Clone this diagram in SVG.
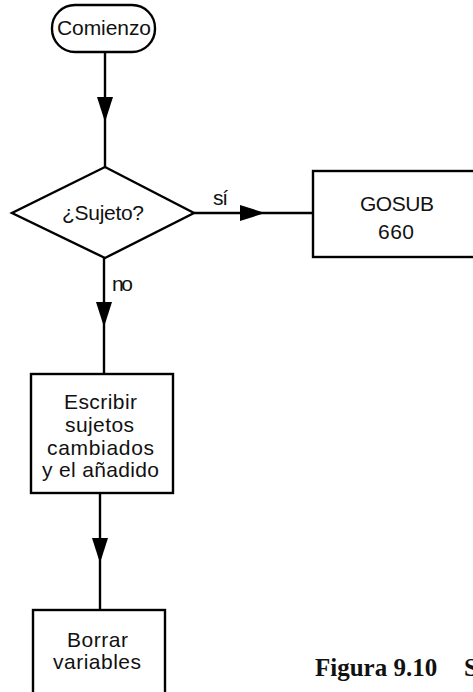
<svg xmlns="http://www.w3.org/2000/svg" width="473" height="692" viewBox="0 0 473 692">
<style>
.shape{fill:#fff;stroke:#000;stroke-width:2.4}
.conn{fill:none;stroke:#000;stroke-width:2.4;marker-mid:url(#arr)}
.t{font-family:"Liberation Sans",Arial,sans-serif;font-size:21px;fill:#111}
.cap{font-family:"Liberation Serif","Times New Roman",serif;font-weight:bold;font-size:25px;fill:#111}
</style>
<defs>
<marker id="arr" markerUnits="userSpaceOnUse" viewBox="0 0 25 16" refX="25" refY="8" markerWidth="25" markerHeight="16" orient="auto">
<path d="M0,0 L25,8 L0,16 z" fill="#000"/>
</marker>
</defs>
<rect width="473" height="692" fill="#fff"/>
<g id="connectors">
<path class="conn" d="M105,52 L105,122 L105,167"/>
<path class="conn" d="M194,213 L265,213 L313,213"/>
<path class="conn" d="M104,258 L104,327 L104,374"/>
<path class="conn" d="M100,493 L100,563 L100,610"/>
<text class="t" x="213" y="205" textLength="15" lengthAdjust="spacing">sí</text>
<text class="t" x="112" y="291" textLength="21" lengthAdjust="spacing">no</text>
</g>
<g id="start">
<rect class="shape" x="52" y="5" width="103" height="47" rx="23" ry="23"/>
<text class="t" x="57" y="35" textLength="94" lengthAdjust="spacing">Comienzo</text>
</g>
<g id="decision">
<polygon class="shape" points="105,167 194,213 105,258 12,213"/>
<text class="t" x="62" y="220" textLength="82" lengthAdjust="spacing">¿Sujeto?</text>
</g>
<g id="gosub">
<rect class="shape" x="313" y="171" width="200" height="86"/>
<text class="t" x="360" y="211" textLength="74" lengthAdjust="spacing">GOSUB</text>
<text class="t" x="378" y="239" textLength="36" lengthAdjust="spacing">660</text>
</g>
<g id="escribir">
<rect class="shape" x="31" y="374" width="142" height="119"/>
<text class="t" x="64" y="409" textLength="73" lengthAdjust="spacing">Escribir</text>
<text class="t" x="65" y="432" textLength="69" lengthAdjust="spacing">sujetos</text>
<text class="t" x="47" y="455" textLength="107" lengthAdjust="spacing">cambiados</text>
<text class="t" x="42" y="477" textLength="117" lengthAdjust="spacing">y el añadido</text>
</g>
<g id="borrar">
<rect class="shape" x="33" y="610" width="132" height="100"/>
<text class="t" x="67" y="647" textLength="61" lengthAdjust="spacing">Borrar</text>
<text class="t" x="53" y="669" textLength="88" lengthAdjust="spacing">variables</text>
</g>
<g id="caption">
<text class="cap" x="315" y="676">Figura 9.10</text>
<text class="cap" x="464" y="676">S</text>
</g>
</svg>
